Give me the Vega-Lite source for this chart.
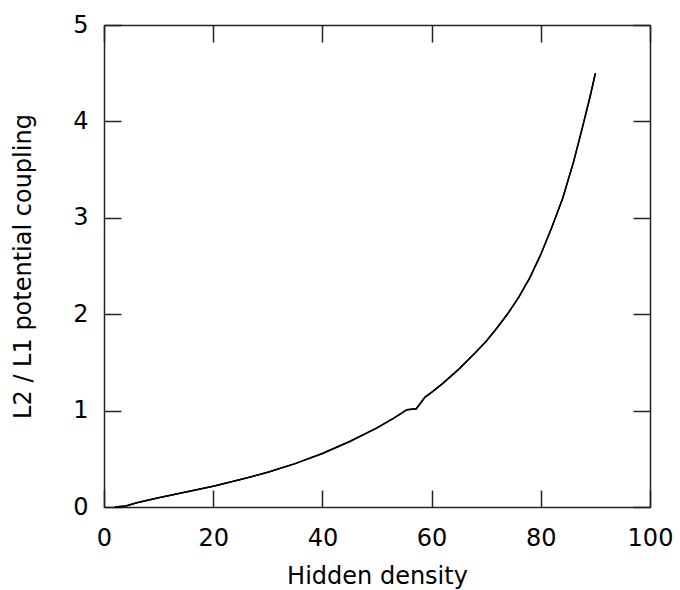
{
  "$schema": "https://vega.github.io/schema/vega-lite/v6.json",
  "autosize": "none",
  "padding": {"left": 104, "top": 25, "right": 30, "bottom": 83},
  "width": 546,
  "height": 482,
  "background": "white",
  "config": {
    "view": {"stroke": null},
    "axis": {
      "grid": false,
      "labelFont": "DejaVu Sans",
      "titleFont": "DejaVu Sans",
      "labelFontSize": 24,
      "titleFontSize": 24,
      "labelColor": "black",
      "titleColor": "black",
      "titleFontWeight": "normal",
      "domainColor": "#222222",
      "domainWidth": 1.5,
      "tickColor": "#222222",
      "tickWidth": 1.5,
      "tickSize": -17,
      "labelFlush": false,
      "labelOverlap": false
    }
  },
  "data": {
    "values": [
      {"x": 2, "y": 0.0},
      {"x": 4, "y": 0.01},
      {"x": 6, "y": 0.045},
      {"x": 10, "y": 0.095},
      {"x": 15, "y": 0.155},
      {"x": 20, "y": 0.215},
      {"x": 25, "y": 0.285},
      {"x": 30, "y": 0.36},
      {"x": 35, "y": 0.45},
      {"x": 40, "y": 0.555},
      {"x": 45, "y": 0.68},
      {"x": 50, "y": 0.82},
      {"x": 53, "y": 0.92},
      {"x": 55.5, "y": 1.01},
      {"x": 57.2, "y": 1.02},
      {"x": 58.8, "y": 1.14},
      {"x": 60, "y": 1.19},
      {"x": 62, "y": 1.28},
      {"x": 65, "y": 1.43},
      {"x": 68, "y": 1.6},
      {"x": 70, "y": 1.72},
      {"x": 72, "y": 1.86},
      {"x": 74, "y": 2.01},
      {"x": 76, "y": 2.18},
      {"x": 78, "y": 2.38},
      {"x": 80, "y": 2.62},
      {"x": 82, "y": 2.9},
      {"x": 84, "y": 3.2},
      {"x": 86, "y": 3.58},
      {"x": 87.5, "y": 3.91},
      {"x": 89, "y": 4.25},
      {"x": 90, "y": 4.5}
    ]
  },
  "layer": [
    {
      "mark": {"type": "line", "color": "black", "strokeWidth": 1.5},
      "encoding": {
        "x": {
          "field": "x", "type": "quantitative",
          "scale": {"domain": [0, 100], "nice": false},
          "axis": {"orient": "bottom", "values": [0, 20, 40, 60, 80, 100], "title": "Hidden density", "labelPadding": 36, "titlePadding": 14}
        },
        "y": {
          "field": "y", "type": "quantitative",
          "scale": {"domain": [0, 5], "nice": false},
          "axis": {"orient": "left", "values": [0, 1, 2, 3, 4, 5], "title": "L2 / L1 potential coupling", "labelPadding": 33, "titlePadding": 37}
        }
      }
    },
    {
      "mark": {"type": "line", "color": "black", "strokeWidth": 1.5},
      "encoding": {
        "x": {
          "field": "x", "type": "quantitative",
          "scale": {"domain": [0, 100], "nice": false},
          "axis": {"orient": "top", "values": [0, 20, 40, 60, 80, 100], "labels": false, "title": null}
        },
        "y": {
          "field": "y", "type": "quantitative",
          "scale": {"domain": [0, 5], "nice": false},
          "axis": {"orient": "right", "values": [0, 1, 2, 3, 4, 5], "labels": false, "title": null}
        }
      }
    }
  ],
  "resolve": {"axis": {"x": "independent", "y": "independent"}}
}
